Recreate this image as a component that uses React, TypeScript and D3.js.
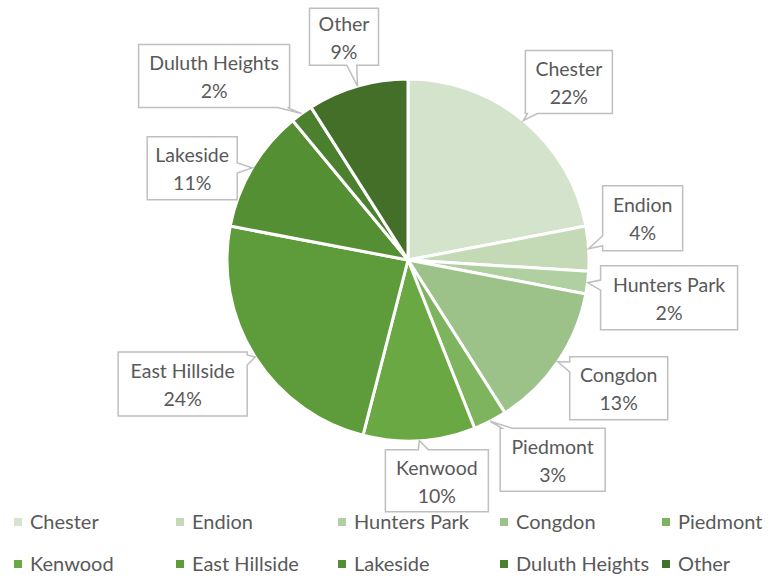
import React from "react";
import * as d3 from "d3";

const categories = ["Chester", "Endion", "Hunters Park", "Congdon", "Piedmont", "Kenwood", "East Hillside", "Lakeside", "Duluth Heights", "Other"];
const shares = [22, 4, 2, 13, 3, 10, 24, 11, 2, 9];
const colors = ["#d4e3cb", "#c4dab7", "#b1d0a1", "#9cc289", "#7fb45e", "#6aa843", "#5e9b3a", "#558f34", "#4a802e", "#436f29"];

// callout layout: offset of box centre from slice anchor, box size
const calloutOffsets: [number, number, number, number][] = [
  [45.5, -38.5, 87, 63],
  [54, -30.5, 80, 65],
  [81.5, 15, 137, 64],
  [61, 26.5, 98, 63],
  [62.5, 38.5, 105, 63],
  [17.5, 40, 103, 62],
  [-72.5, 27, 129, 64],
  [-60, 0.5, 90, 63],
  [-87.5, -37.5, 151, 63],
  [-13.5, -49.5, 69, 57],
];

const W = 772, H = 577;
const cx = 408, cy = 260, R = 181;
const FONT = "Lato, 'Open Sans', sans-serif";
const TEXT = "#595959";

function calloutPath(bx: number, by: number, bw: number, bh: number, ax: number, ay: number) {
  const x0 = bx - bw / 2, x1 = bx + bw / 2, y0 = by - bh / 2, y1 = by + bh / 2;
  const dx = ax - bx, dy = ay - by;
  const tx = dx !== 0 ? (bw / 2) / Math.abs(dx) : Infinity;
  const ty = dy !== 0 ? (bh / 2) / Math.abs(dy) : Infinity;
  const hw = 5;
  const clamp = (v: number, a: number, b: number) => Math.max(a + hw + 2, Math.min(b - hw - 2, v));
  let pts: [number, number][] = [];
  if (ty < tx) {
    const ex = clamp(bx + dx * ty, x0, x1);
    if (dy < 0) {
      pts = [[x0, y0], [ex - hw, y0], [ax, ay], [ex + hw, y0], [x1, y0], [x1, y1], [x0, y1]];
    } else {
      pts = [[x0, y0], [x1, y0], [x1, y1], [ex + hw, y1], [ax, ay], [ex - hw, y1], [x0, y1]];
    }
  } else {
    const ey = clamp(by + dy * tx, y0, y1);
    if (dx > 0) {
      pts = [[x0, y0], [x1, y0], [x1, ey - hw], [ax, ay], [x1, ey + hw], [x1, y1], [x0, y1]];
    } else {
      pts = [[x0, y0], [x1, y0], [x1, y1], [x0, y1], [x0, ey + hw], [ax, ay], [x0, ey - hw]];
    }
  }
  return "M" + pts.map((p) => p[0] + "," + p[1]).join("L") + "Z";
}

export default function App() {
  const total = d3.sum(shares);
  const pie = d3.pie<number>().sort(null).value((d) => d);
  const arcs = pie(shares);
  const arcGen = d3.arc<d3.PieArcDatum<number>>().innerRadius(0).outerRadius(R);
  const anchorArc = d3.arc<d3.PieArcDatum<number>>().innerRadius(R).outerRadius(R);
  const fmt = d3.format(".0%");

  const legendX = d3.scalePoint<number>().domain([0, 1, 2, 3, 4]).range([14, 662]);
  const legendY = d3.scalePoint<number>().domain([0, 1]).range([522, 564]);

  return (
    <div style={{ position: "absolute", left: 0, top: 0 }}>
      <svg width={W} height={H} style={{ display: "block", background: "#fff" }}>
        <g transform={`translate(${cx},${cy})`}>
          {arcs.map((a, i) => (
            <path key={i} d={arcGen(a) || ""} fill={colors[i]} stroke="#fff" strokeWidth={3} strokeLinejoin="round" />
          ))}
        </g>
        {arcs.map((a, i) => {
          const [axr, ayr] = anchorArc.centroid(a);
          const ax = cx + axr, ay = cy + ayr;
          const [ox, oy, bw, bh] = calloutOffsets[i];
          const bx = ax + ox, by = ay + oy;
          return (
            <g key={"c" + i}>
              <path d={calloutPath(bx, by, bw, bh, ax, ay)} fill="#fff" stroke="#bfbfbf" strokeWidth={1.5} />
              <text x={bx} y={by - 6} textAnchor="middle" fontFamily={FONT} fontSize={19.5} fill={TEXT}>
                {categories[i]}
              </text>
              <text x={bx} y={by + 22} textAnchor="middle" fontFamily={FONT} fontSize={19.5} fill={TEXT}>
                {fmt(shares[i] / total)}
              </text>
            </g>
          );
        })}
        {categories.map((c, i) => {
          const col = i % 5, row = Math.floor(i / 5);
          const x = legendX(col)!, y = legendY(row)!;
          return (
            <g key={"l" + i}>
              <rect x={x} y={y - 4} width={8} height={8} fill={colors[i]} />
              <text x={x + 16} y={y + 7} fontFamily={FONT} fontSize={20} fill={TEXT}>
                {c}
              </text>
            </g>
          );
        })}
      </svg>
    </div>
  );
}
